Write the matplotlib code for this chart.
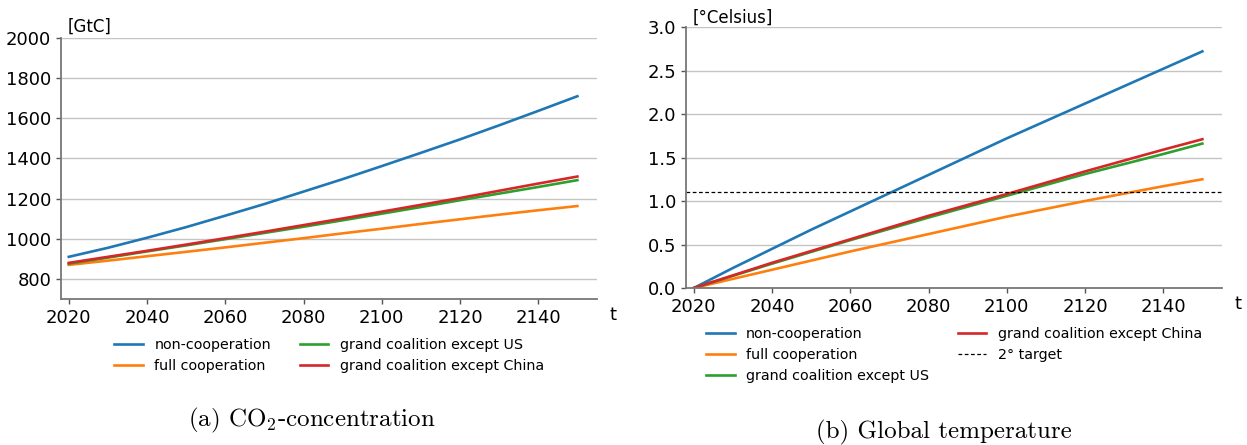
import numpy as np
import matplotlib.pyplot as plt

plt.rcParams['mathtext.fontset'] = 'cm'

# years on the x axis
years = [2020, 2030, 2040, 2050, 2060, 2070, 2080, 2090, 2100, 2110, 2120, 2130, 2140, 2150]

# CO2 concentration [GtC]
co2_non_coop = [910, 955, 1005, 1058, 1115, 1173, 1235, 1297, 1362, 1428, 1495, 1565, 1637, 1710]
co2_full_coop = [870, 891, 913, 935, 957, 980, 1003, 1027, 1050, 1074, 1097, 1120, 1142, 1163]
co2_except_us = [876, 906, 937, 967, 998, 1029, 1060, 1092, 1125, 1158, 1192, 1225, 1258, 1292]
co2_except_china = [880, 910, 940, 971, 1003, 1035, 1068, 1101, 1135, 1169, 1203, 1239, 1275, 1310]

# global temperature [deg Celsius]
temp_non_coop = [0, 0.23, 0.45, 0.67, 0.88, 1.09, 1.30, 1.51, 1.72, 1.92, 2.12, 2.32, 2.52, 2.72]
temp_full_coop = [0, 0.105, 0.21, 0.315, 0.42, 0.52, 0.62, 0.72, 0.82, 0.91, 1.00, 1.085, 1.17, 1.25]
temp_except_us = [0, 0.14, 0.28, 0.415, 0.55, 0.68, 0.81, 0.935, 1.06, 1.185, 1.31, 1.425, 1.54, 1.66]
temp_except_china = [0, 0.145, 0.29, 0.425, 0.56, 0.695, 0.83, 0.955, 1.08, 1.21, 1.34, 1.465, 1.59, 1.71]
target = 1.1

labels = ["non-cooperation", "full cooperation", "grand coalition except US", "grand coalition except China"]
colors = ["#1f77b4", "#ff7f0e", "#2ca02c", "#d62728"]

fig = plt.figure(figsize=(12.47, 4.45), dpi=100)
ax1 = fig.add_axes([0.0489, 0.3281, 0.4298, 0.5865])
ax2 = fig.add_axes([0.5501, 0.3528, 0.4298, 0.5865])


def style(ax):
    for side in ["top", "right"]:
        ax.spines[side].set_visible(False)
    for side in ["left", "bottom"]:
        ax.spines[side].set_color("#777777")
        ax.spines[side].set_linewidth(1.3)
    ax.tick_params(colors="#555555", labelcolor="black", labelsize=13, width=1)
    ax.grid(axis="y", color="#c4c4c4", linewidth=1)
    ax.set_axisbelow(True)
    ax.set_xlim(2018, 2155)
    ax.set_xticks([2020, 2040, 2060, 2080, 2100, 2120, 2140])
    ax.text(1.03, -0.06, "t", transform=ax.transAxes, fontsize=13, va="center", ha="center")


# left: CO2 concentration
for vals, lab, c in zip([co2_non_coop, co2_full_coop, co2_except_us, co2_except_china], labels, colors):
    ax1.plot(years, vals, color=c, lw=1.9, label=lab)
style(ax1)
ax1.set_ylim(700, 2000)
ax1.set_yticks([800, 1000, 1200, 1400, 1600, 1800, 2000])
ax1.text(0.013, 1.01, "[GtC]", transform=ax1.transAxes, fontsize=12, va="bottom")
ax1.legend(loc="upper center", bbox_to_anchor=(0.5, -0.10), ncol=2, frameon=False, fontsize=10.3)

# right: global temperature
for vals, lab, c in zip([temp_non_coop, temp_full_coop, temp_except_us, temp_except_china], labels, colors):
    ax2.plot(years, vals, color=c, lw=1.9, label=lab)
ax2.axhline(target, color="black", lw=0.9, ls=(0, (3, 2)), label="2° target")
style(ax2)
ax2.set_ylim(0, 3.0)
ax2.set_yticks(np.arange(0, 3.01, 0.5))
ax2.text(0.013, 1.0, "[°Celsius]", transform=ax2.transAxes, fontsize=12, va="bottom")
h, l = ax2.get_legend_handles_labels()
ax2.legend(h, l, loc="upper center", bbox_to_anchor=(0.5, -0.10), ncol=2, frameon=False, fontsize=10.3)

# captions
fig.text(312 / 1247, 1 - 420 / 445, "(a) CO$_2$-concentration", family="cmr10", fontsize=18, ha="center", va="center")
fig.text(944 / 1247, 1 - 432 / 445, "(b) Global temperature", family="cmr10", fontsize=18, ha="center", va="center")

plt.savefig("out.png", dpi=100)
